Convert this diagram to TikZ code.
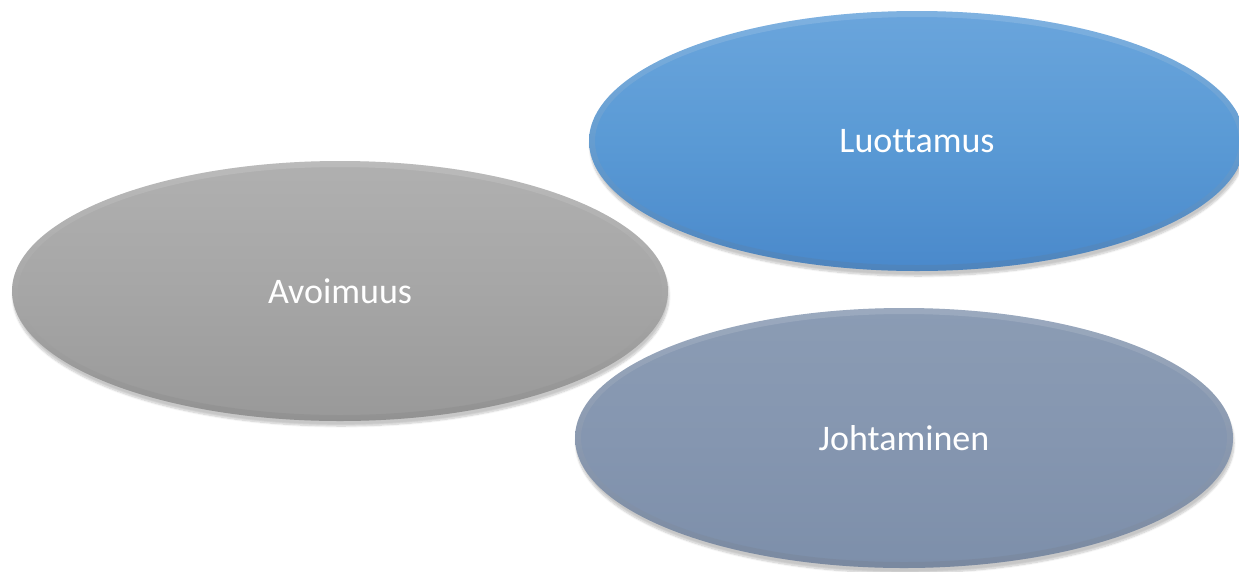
\documentclass[tikz,border=0pt]{standalone}
\usepackage{fontspec}
\setmainfont{Carlito}[Ligatures=NoCommon]
\usetikzlibrary{shapes.geometric,shadows.blur}
\definecolor{grayTop}{HTML}{B0B0B0}
\definecolor{grayMid}{HTML}{A6A6A6}
\definecolor{grayBot}{HTML}{999999}
\definecolor{blueTop}{HTML}{6AA5DC}
\definecolor{blueMid}{HTML}{5A9AD5}
\definecolor{blueBot}{HTML}{4A89CB}
\definecolor{slateTop}{HTML}{8B9CB4}
\definecolor{slateMid}{HTML}{8596B0}
\definecolor{slateBot}{HTML}{7D8FAA}
\tikzset{
  oval/.style={ellipse, inner sep=0pt, minimum width=656pt, minimum height=260pt,
    text=white, font=\fontsize{36}{43}\selectfont,
    blur shadow={shadow xshift=1pt, shadow yshift=-5pt, shadow blur steps=8, shadow opacity=22}},
  grayfill/.style={top color=grayTop, bottom color=grayBot, middle color=grayMid},
  bluefill/.style={top color=blueTop, bottom color=blueBot, middle color=blueMid},
  slatefill/.style={top color=slateTop, bottom color=slateBot, middle color=slateMid},
  rim/.style={even odd rule, top color=white, bottom color=white!40!black, fill opacity=0.14, draw=none}
}
\begin{document}
\begin{tikzpicture}[x=1pt,y=-1pt]
\useasboundingbox (0,0) rectangle (1239,571);
\begin{scope}
\clip (0,0) rectangle (1239,571);
\node[oval, grayfill] (avo) at (340,291) {Avoimuus};
\shade[rim] (avo.center) ellipse [x radius=328pt, y radius=130pt]
  (avo.center) ellipse [x radius=322pt, y radius=124pt];
\node[oval, bluefill, minimum width=656pt] (luo) at (917,141) {Luottamus};
\shade[rim] (luo.center) ellipse [x radius=328pt, y radius=130pt]
  (luo.center) ellipse [x radius=322pt, y radius=124pt];
\node[oval, slatefill, minimum width=658pt] (joh) at (904,438) {Johtaminen};
\shade[rim] (joh.center) ellipse [x radius=329pt, y radius=130pt]
  (joh.center) ellipse [x radius=323pt, y radius=124pt];
\end{scope}
\end{tikzpicture}
\end{document}
